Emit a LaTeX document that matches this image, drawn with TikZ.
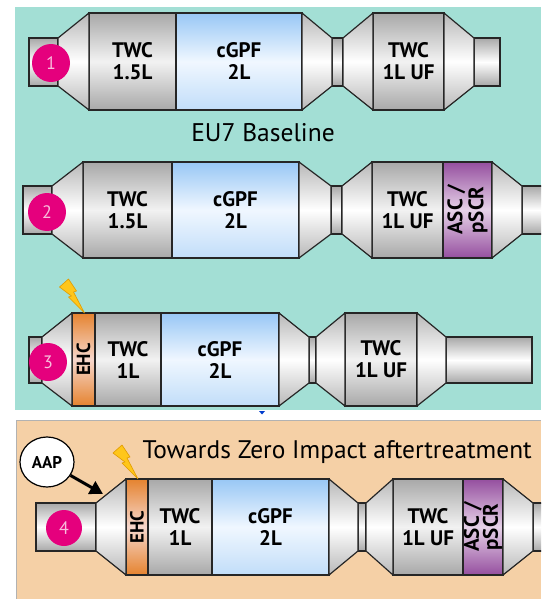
\documentclass[tikz,border=0pt]{standalone}
\usepackage{fontspec}
\setmainfont{PT Sans}
\usetikzlibrary{shapes.geometric, arrows.meta}
\definecolor{tealbg}{HTML}{A3DFD5}
\definecolor{peachbg}{HTML}{F5D0A6}
\definecolor{edge}{HTML}{262626}
\definecolor{greydark}{HTML}{A8A8A8}
\definecolor{greylight}{HTML}{F2F2F2}
\definecolor{greycone}{HTML}{B8B8B8}
\definecolor{gpfblue}{HTML}{98C7F5}
\definecolor{gpflight}{HTML}{F0F7FF}
\definecolor{scrpurple}{HTML}{954F9F}
\definecolor{scrlight}{HTML}{E6D2E8}
\definecolor{ehcorange}{HTML}{E5832F}
\definecolor{ehclight}{HTML}{F6D7CC}
\definecolor{badgecol}{HTML}{E5007D}
\definecolor{badgetext}{HTML}{F8BEDC}
\definecolor{boltfill}{HTML}{FFC61A}
\definecolor{boltedge}{HTML}{E09A00}
\tikzstyle{segment} = [rectangle, draw=edge, line width=1.2pt, inner sep=0pt, outer sep=0pt, minimum height=96pt, align=center, font=\bfseries\fontsize{21}{22}\selectfont]
\tikzstyle{twc} = [segment, top color=greydark, bottom color=greydark, middle color=greylight]
\tikzstyle{gpf} = [segment, top color=gpfblue, bottom color=gpfblue!60, middle color=gpflight]
\tikzstyle{scr} = [segment, top color=scrpurple, bottom color=scrpurple, middle color=scrlight]
\tikzstyle{ehc} = [segment, top color=ehcorange, bottom color=ehcorange, middle color=ehclight]
\tikzstyle{tube} = [segment, minimum height=48pt, top color=greydark, bottom color=greydark, middle color=white]
\tikzstyle{cone} = [draw=edge, line width=1.2pt, line join=round, top color=greycone, bottom color=greycone, middle color=white]
\tikzstyle{vert} = [rotate=90, align=center, font=\bfseries\fontsize{19}{19}\selectfont]
\tikzstyle{badge} = [circle, fill=badgecol, minimum size=38pt, inner sep=0pt, text=badgetext, font=\fontsize{18}{18}\selectfont]
\tikzstyle{bolt} = [fill=boltfill, draw=boltedge, line width=0.6pt, line join=round]
\tikzstyle{arrow} = [line width=3pt, -{Triangle[length=13pt, width=14pt]}]

\begin{document}
\begin{tikzpicture}[x=1pt, y=-1pt]
   \clip (0,0) rectangle (541,599);
   % panels
   \fill[white] (0,0) rectangle (541,599);
   \fill[tealbg] (15,7) rectangle (541,410);
   \fill[peachbg] (16,420) rectangle (541,599);
   \draw[gray!60, line width=1pt] (16,599) -- (16,420) -- (541,420);
   \fill[blue!70!cyan!80!black] (259,411) -- (265,411) -- (262,414.5) -- cycle;

   % row 1
   \node (pipeA) [tube, minimum width=29pt] at (43.5,62) {};
   \node (twcA) [twc, minimum width=87pt, minimum height=97pt] at (132.5,61.5) {TWC\\1.5L};
   \node (gpfA) [gpf, minimum width=126pt, minimum height=97pt] at (239,61.5) {cGPF\\2L};
   \node (neckA) [tube, minimum width=11pt] at (337.5,62) {};
   \node (ufA) [twc, minimum width=71pt, minimum height=97pt] at (408.5,61.5) {TWC\\1L UF};
   \node (outA) [tube, minimum width=26pt] at (487,62) {};
   \node (base) [font=\fontsize{25.5}{25.5}\selectfont] at (263,133) {EU7 Baseline};

   % row 2
   \node (pipeB) [tube, minimum width=29pt] at (37.5,210) {};
   \node (twcB) [twc, minimum width=89pt] at (127.5,210) {TWC\\1.5L};
   \node (gpfB) [gpf, minimum width=127pt] at (235.5,210) {cGPF\\2L};
   \node (neckB) [tube, minimum width=11pt] at (336.5,210) {};
   \node (ufB) [twc, minimum width=71pt] at (407.5,210) {TWC\\1L UF};
   \node (scrB) [scr, minimum width=49pt] at (467.5,210) {};
   \node (outB) [tube, minimum width=38pt] at (541,210) {};
   \node [vert, font=\bfseries\fontsize{21}{21}\selectfont] at (scrB) {ASC /\\pSCR};

   % row 3
   \node (pipeC) [tube, minimum width=13pt, minimum height=46pt] at (35.5,360) {};
   \node (ehcC) [ehc, minimum width=23pt, minimum height=93pt] at (83.5,359.5) {};
   \node (twcC) [twc, minimum width=66pt, minimum height=93pt] at (128,359.5) {TWC\\1L};
   \node (gpfC) [gpf, minimum width=118pt, minimum height=93pt] at (220,359.5) {cGPF\\2L};
   \node (neckC) [tube, minimum width=7pt, minimum height=46pt] at (312.5,360) {};
   \node (ufC) [twc, minimum width=72pt, minimum height=93pt] at (381,359.5) {TWC\\1L UF};
   \node (outC) [tube, minimum width=86pt, minimum height=46pt] at (489,360) {};
   \node [vert] at (ehcC) {EHC};

   % row 4
   \node (pipeD) [tube, minimum width=60pt] at (66,527) {};
   \node (ehcD) [ehc, minimum width=22pt] at (137,527) {};
   \node (twcD) [twc, minimum width=64pt] at (180,527) {TWC\\1L};
   \node (gpfD) [gpf, minimum width=117pt] at (270.5,527) {cGPF\\2L};
   \node (neckD) [tube, minimum width=8pt] at (362,527) {};
   \node (ufD) [twc, minimum width=70pt] at (428,527) {TWC\\1L UF};
   \node (scrD) [scr, minimum width=40pt] at (483,527) {};
   \node (outD) [tube, minimum width=27pt] at (546.5,527) {};
   \node [vert] at (ehcD) {EHC};
   \node [vert, font=\bfseries\fontsize{21}{19}\selectfont] at (scrD) {ASC /\\pSCR};
   \node (zero) [anchor=base west, font=\fontsize{25.4}{25.4}\selectfont] at (139,458) {Towards Zero Impact aftertreatment};

   % tapered pieces between sections
   \foreach \a/\b in {pipeA/twcA, gpfA/neckA, neckA/ufA, ufA/outA,
                      pipeB/twcB, gpfB/neckB, neckB/ufB, scrB/outB,
                      pipeC/ehcC, gpfC/neckC, neckC/ufC, ufC/outC,
                      pipeD/ehcD, gpfD/neckD, neckD/ufD, scrD/outD}
      \draw[cone] (\a.north east) -- (\b.north west) -- (\b.south west) -- (\a.south east) -- cycle;

   % heater bolts
   \foreach \h in {ehcC, ehcD}
      \draw[bolt, shift={(\h.north)}] (1,0) -- (-15,-16) -- (-12,-17) -- (-24,-26) -- (-15,-34) -- (-7,-22) -- (-10,-21) -- cycle;

   % numbered badges
   \node (numA) [badge] at (51,63) {1};
   \node (numB) [badge] at (47,212) {2};
   \node (numC) [badge] at (48,362) {3};
   \node (numD) [badge, minimum size=36pt] at (64,528) {4};

   % air pump
   \node (aap) [ellipse, draw=black, fill=white, line width=1.2pt, minimum width=54pt, minimum height=50pt, inner sep=0pt, font=\bfseries\fontsize{17}{17}\selectfont] at (47,462) {AAP};
   \coordinate (aapT) at (103,494);
   \draw[arrow] (aap) -- (aapT);
\end{tikzpicture}
\end{document}
